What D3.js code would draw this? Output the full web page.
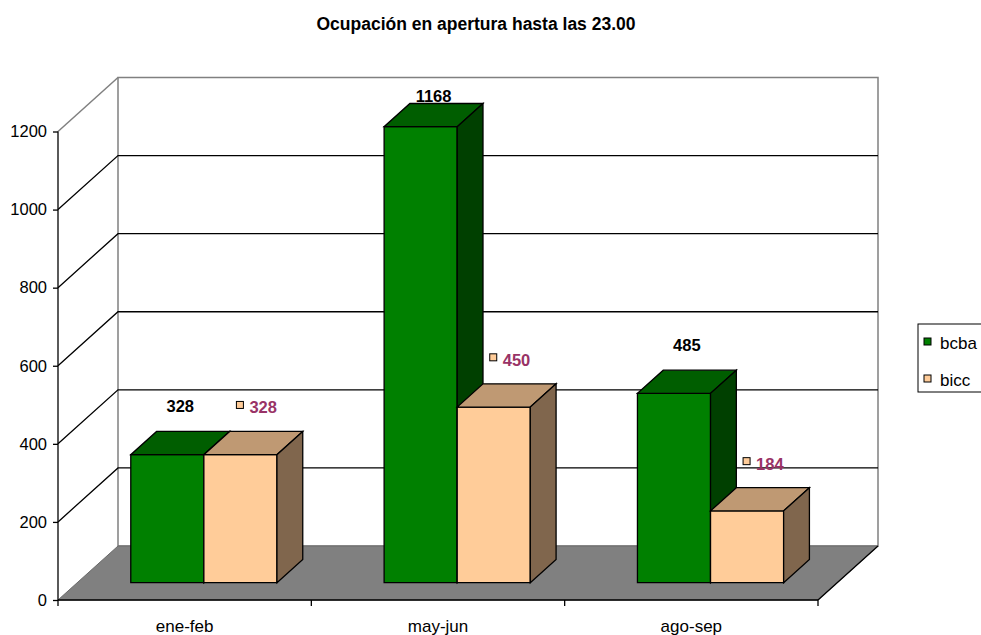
<!DOCTYPE html>
<html>
<head>
<meta charset="utf-8">
<script src="https://cdn.jsdelivr.net/npm/d3@7"></script>
<style>
  body { margin: 0; background: #fff; }
  text { font-family: "Liberation Sans", Arial, sans-serif; }
</style>
</head>
<body>
<div id="chart"></div>
<script>
// data
var categories = ["ene-feb", "may-jun", "ago-sep"];
var seriesNames = ["bcba", "bicc"];
var bcba = [328, 1168, 485];
var bicc = [328, 450, 184];
var yTicks = [0, 200, 400, 600, 800, 1000, 1200];

var width = 981, height = 635;

// front plane and depth vector of the 3d box
var front = { left: 58, right: 818, bottom: 600, top: 131.5 };
var depthX = 60, depthY = -54;
var barNear = 0.32, barFar = 0.75;

var svg = d3.select("#chart")
    .append("svg")
    .attr("width", width)
    .attr("height", height);

var y = d3.scaleLinear()
    .domain([0, 1200])
    .range([front.bottom, front.top]);
var x = d3.scaleBand()
    .domain(categories)
    .range([front.left, front.right])
    .padding(0);

function shift(p, f) {
    return [p[0] + depthX * f, p[1] + depthY * f];
}
function poly(pts) {
    return pts.map(function (p) { return p.join(","); }).join(" ");
}

// title
svg.append("text")
    .attr("x", 476)
    .attr("y", 30)
    .attr("text-anchor", "middle")
    .style("font-size", "17.5px")
    .style("font-weight", "bold")
    .text("Ocupación en apertura hasta las 23.00");

// back wall
var backL = front.left + depthX, backR = front.right + depthX;
svg.append("polygon")
    .attr("points", poly([
        [backL, y(0) + depthY], [backR, y(0) + depthY],
        [backR, y(1200) + depthY], [backL, y(1200) + depthY]]))
    .attr("fill", "#fff")
    .attr("stroke", "#808080")
    .attr("stroke-width", 1.5);

// side wall top edge
svg.append("line")
    .attr("x1", front.left).attr("y1", y(1200))
    .attr("x2", backL).attr("y2", y(1200) + depthY)
    .attr("stroke", "#808080")
    .attr("stroke-width", 1.5);

// gridlines (side + back)
var grid = svg.append("g").attr("class", "grid");
yTicks.filter(function (d) { return d > 0 && d < 1200; }).forEach(function (d) {
    grid.append("polyline")
        .attr("points", poly([[front.left, y(d)], [backL, y(d) + depthY], [backR, y(d) + depthY]]))
        .attr("fill", "none")
        .attr("stroke", "#000")
        .attr("stroke-width", 1.3);
});

// floor
svg.append("polygon")
    .attr("points", poly([
        [front.left, y(0)], [front.right, y(0)],
        [backR, y(0) + depthY], [backL, y(0) + depthY]]))
    .attr("fill", "#808080")
    .attr("stroke", "#6a6a6a");
svg.append("line")
    .attr("x1", front.right).attr("y1", y(0))
    .attr("x2", backR).attr("y2", y(0) + depthY)
    .attr("stroke", "#000")
    .attr("stroke-width", 1.3);

// y axis
var yAxis = d3.axisLeft(y)
    .tickValues(yTicks)
    .tickFormat(d3.format("d"))
    .tickSize(5)
    .tickPadding(6);
var gy = svg.append("g")
    .attr("transform", "translate(" + front.left + ",0)")
    .call(yAxis);
gy.select(".domain").attr("stroke", "#000").attr("stroke-width", 1.3)
    .attr("d", "M0," + y(0) + "V" + y(1200));
gy.selectAll(".tick line").attr("stroke", "#000").attr("stroke-width", 1.3);
gy.selectAll(".tick text")
    .style("font-size", "16.5px")
    .style("font-family", "'Liberation Sans', Arial, sans-serif")
    .attr("fill", "#000");

// x axis
svg.append("line")
    .attr("x1", front.left).attr("y1", y(0))
    .attr("x2", front.right).attr("y2", y(0))
    .attr("stroke", "#000")
    .attr("stroke-width", 1.3);
var xTickPos = categories.map(function (c) { return x(c); }).concat([front.right]);
svg.selectAll(".xtick")
    .data(xTickPos)
    .enter().append("line")
    .attr("x1", function (d) { return d; })
    .attr("x2", function (d) { return d; })
    .attr("y1", y(0))
    .attr("y2", y(0) + 6)
    .attr("stroke", "#000")
    .attr("stroke-width", 1.3);
svg.selectAll(".xlabel")
    .data(categories)
    .enter().append("text")
    .attr("x", function (d) { return x(d) + x.bandwidth() / 2; })
    .attr("y", 632)
    .attr("text-anchor", "middle")
    .style("font-size", "17px")
    .text(function (d) { return d; });

// bars
var groupFrac = 0.577;
var barW = x.bandwidth() * groupFrac / 2;
var series = [
    { name: "bcba", values: bcba, front: "#008000", top: "#005e00", side: "#004000" },
    { name: "bicc", values: bicc, front: "#ffcc99", top: "#bf9973", side: "#80664d" }
];

var bars = svg.append("g").attr("class", "bars");
categories.forEach(function (c, ci) {
    var gx0 = x(c) + x.bandwidth() / 2 - barW;
    series.forEach(function (s, si) {
        var v = s.values[ci];
        var x0 = gx0 + si * barW, x1 = x0 + barW;
        var fb0 = shift([x0, y(0)], barNear), fb1 = shift([x1, y(0)], barNear);
        var ft0 = shift([x0, y(v)], barNear), ft1 = shift([x1, y(v)], barNear);
        var d = barFar - barNear;
        var bt0 = shift(ft0, d), bt1 = shift(ft1, d), bb1 = shift(fb1, d);
        var g = bars.append("g");
        g.append("polygon").attr("points", poly([fb0, fb1, ft1, ft0]))
            .attr("fill", s.front).attr("stroke", "#000").attr("stroke-width", 1.3);
        g.append("polygon").attr("points", poly([ft0, ft1, bt1, bt0]))
            .attr("fill", s.top).attr("stroke", "#000").attr("stroke-width", 1.3);
        g.append("polygon").attr("points", poly([fb1, bb1, bt1, ft1]))
            .attr("fill", s.side).attr("stroke", "#000").attr("stroke-width", 1.3);
    });
});

// data labels
var labels = svg.append("g").attr("class", "labels");
categories.forEach(function (c, ci) {
    var gx0 = x(c) + x.bandwidth() / 2 - barW;
    var off = (barFar - barNear);
    // bcba: black, centred over the bar
    var v = bcba[ci];
    var p = shift([gx0 + barW / 2, y(v)], barFar);
    var ly = Math.max(p[1] - 19, y(1200) - 30);
    labels.append("text")
        .attr("x", p[0] - depthX * off / 2)
        .attr("y", ly)
        .attr("text-anchor", "middle")
        .style("font-size", "16.5px")
        .style("font-weight", "bold")
        .attr("fill", "#000")
        .text(v);
    // bicc: legend key + purple text
    var w = bicc[ci];
    var q = shift([gx0 + barW * 1.5, y(w)], barFar);
    var qx = gx0 + barW * 1.5 + depthX * barNear;
    var qy = q[1] - 18;
    labels.append("rect")
        .attr("x", qx - 4).attr("y", qy - 12)
        .attr("width", 7).attr("height", 7)
        .attr("fill", "#ffcc99").attr("stroke", "#000").attr("stroke-width", 1);
    labels.append("text")
        .attr("x", qx + 9)
        .attr("y", qy)
        .style("font-size", "16.5px")
        .style("font-weight", "bold")
        .attr("fill", "#993366")
        .text(w);
});

// legend
var legend = svg.append("g").attr("transform", "translate(918,324)");
legend.append("rect")
    .attr("width", 70).attr("height", 68)
    .attr("fill", "#fff").attr("stroke", "#000").attr("stroke-width", 1);
series.forEach(function (s, i) {
    legend.append("rect")
        .attr("x", 6).attr("y", 14 + i * 37)
        .attr("width", 7).attr("height", 7)
        .attr("fill", s.front).attr("stroke", "#000").attr("stroke-width", 1);
    legend.append("text")
        .attr("x", 22).attr("y", 25 + i * 37)
        .style("font-size", "17px")
        .text(s.name);
});
</script>
</body>
</html>
